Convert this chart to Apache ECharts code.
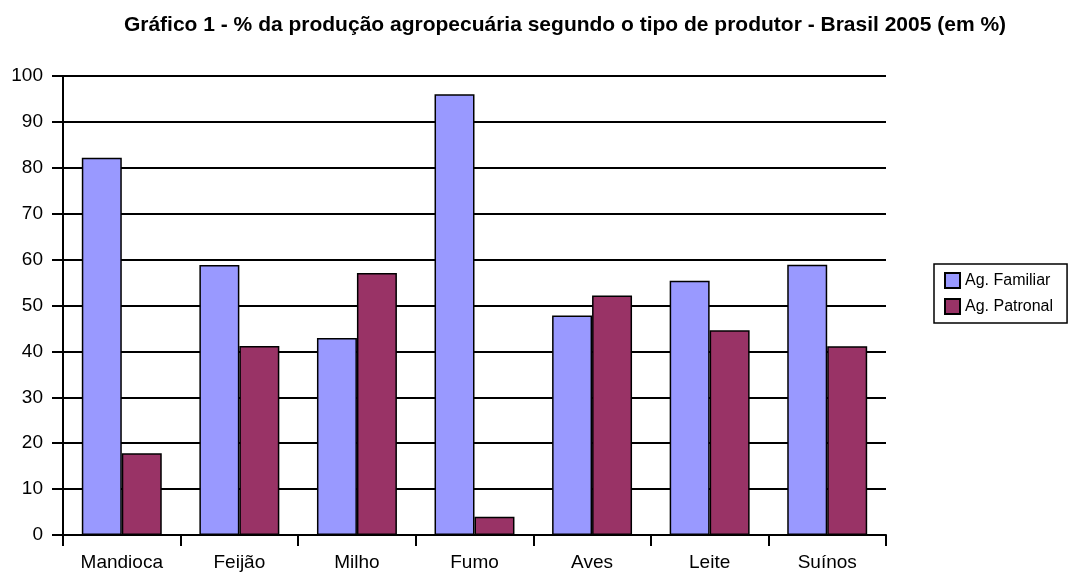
<!DOCTYPE html>
<html>
<head>
<meta charset="utf-8">
<script src="https://cdn.jsdelivr.net/npm/echarts@6/dist/echarts.min.js"></script>
<style>html,body{margin:0;padding:0;background:#fff}#c{width:1068px;height:574px}</style>
</head>
<body>
<div id="c"></div>
<script>
const categories = ['Mandioca','Feijão','Milho','Fumo','Aves','Leite','Suínos'];
const familiar = [82.2, 58.8, 42.9, 96.0, 47.8, 55.4, 58.9];
const patronal = [17.8, 41.2, 57.1, 4.0, 52.2, 44.6, 41.1];
const yTicks = {min: 0, max: 100, interval: 10};
const titleText = 'Gráfico 1 - % da produção agropecuária segundo o tipo de produtor - Brasil 2005 (em %)';
const seriesNames = ['Ag. Familiar', 'Ag. Patronal'];

const chart = echarts.init(document.getElementById('c'));
const font = 'Liberation Sans, Arial, sans-serif';
chart.setOption({
  backgroundColor: '#fff',
  animation: false,
  title: {
    text: titleText, left: 560, top: 10, textAlign: 'center',
    textStyle: {fontFamily: font, fontSize: 21, fontWeight: 'bold', color: '#000'}
  },
  legend: {
    orient: 'vertical', left: 934, top: 264,
    itemWidth: 15, itemHeight: 15, itemGap: 9,
    padding: [8, 14, 8, 10], borderColor: '#000', borderWidth: 1.5,
    icon: 'rect',
    textStyle: {fontFamily: font, fontSize: 16, color: '#000'},
    data: seriesNames
  },
  grid: {left: 63, right: 182, top: 76, bottom: 39, containLabel: false},
  xAxis: {
    type: 'category', data: categories,
    axisLine: {lineStyle: {color: '#000', width: 2}},
    axisTick: {show: true, alignWithLabel: false, length: 11, lineStyle: {color: '#000', width: 2}},
    axisLabel: {fontFamily: font, fontSize: 19, color: '#000', margin: 18}
  },
  yAxis: {
    type: 'value', min: yTicks.min, max: yTicks.max, interval: yTicks.interval,
    axisLine: {show: true, lineStyle: {color: '#000', width: 2}},
    axisTick: {show: true, length: 11, lineStyle: {color: '#000', width: 2}},
    splitLine: {lineStyle: {color: '#000', width: 2}},
    axisLabel: {fontFamily: font, fontSize: 19, color: '#000', margin: 20}
  },
  series: [
    {name: seriesNames[0], type: 'bar', data: familiar, barGap: '0%', barCategoryGap: '32%',
     itemStyle: {color: '#9999FF', borderColor: '#000', borderWidth: 1.5}},
    {name: seriesNames[1], type: 'bar', data: patronal, barGap: '0%', barCategoryGap: '32%',
     itemStyle: {color: '#993366', borderColor: '#000', borderWidth: 1.5}}
  ]
});
</script>
</body>
</html>
